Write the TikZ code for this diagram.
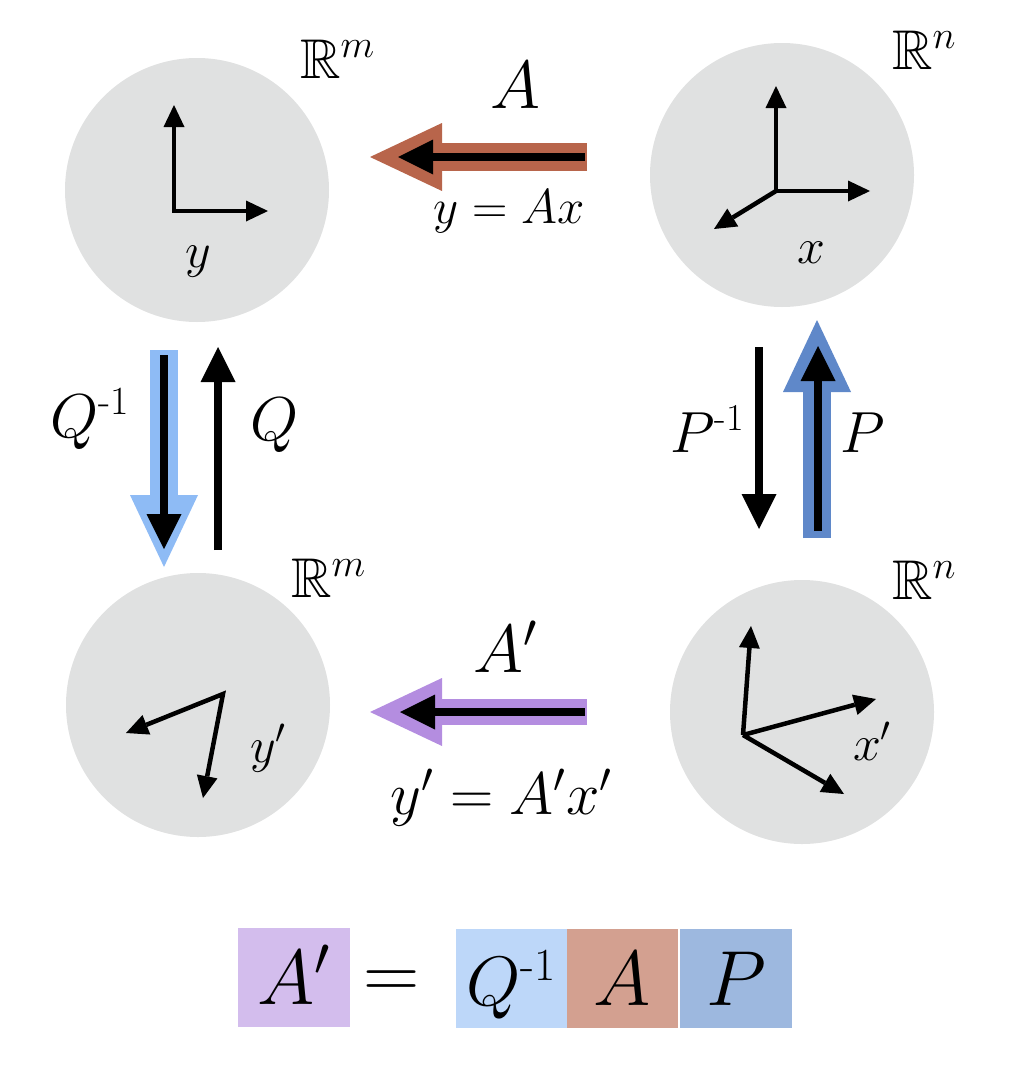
\documentclass[tikz,border=0pt]{standalone}
\usepackage{fix-cm}
\usepackage{amssymb}
\usetikzlibrary{arrows.meta}
\definecolor{circgray}{HTML}{E0E1E1}
\definecolor{colA}{HTML}{B8654B}
\definecolor{colAp}{HTML}{B48DE0}
\definecolor{colQ}{HTML}{8EBBF5}
\definecolor{colP}{HTML}{5F88C9}
\definecolor{boxAp}{HTML}{D3BDED}
\definecolor{boxQ}{HTML}{BDD7F9}
\definecolor{boxA}{HTML}{D3A090}
\definecolor{boxP}{HTML}{9DB8DF}
\newcommand\invsup[1]{^{\hbox{\fontsize{#1}{#1}\selectfont -1}}}
\begin{document}
\begin{tikzpicture}[x=1pt,y=-1pt,
  space/.style={circle, fill=circgray, minimum size=264pt, inner sep=0pt},
  axis/.style={line width=4.5pt, line join=miter, -{Triangle[length=22pt,width=21pt,line width=0pt]}},
  axis2/.style={line width=4.5pt, line join=miter, {Triangle[length=22pt,width=21pt,line width=0pt]}-{Triangle[length=22pt,width=21pt,line width=0pt]}},
  blk/.style={line width=8pt, -{Triangle[length=35pt,width=35pt,line width=0pt]}},
  fat/.style={line width=28pt, -{Triangle[length=72pt,width=68pt,line width=0pt]}},
  lab/.style={inner sep=0pt, anchor=base},
  mbox/.style={inner sep=0pt, minimum width=112pt, minimum height=99pt, text height=54pt, text depth=0pt, font=\fontsize{78}{90}\selectfont},
]
\useasboundingbox (0,0) rectangle (1021,1068);

% spaces
\node[space] (c1) at (197,190) {};
\node[space] (c2) at (782,175) {};
\node[space] (c3) at (198,705) {};
\node[space] (c4) at (802,712) {};

% axes TL
\coordinate (o1) at (174,211);
\coordinate (o1u) at (174,105);
\coordinate (o1r) at (268,211);
\draw[axis2] (o1u) -- (o1) -- (o1r);
% axes TR
\coordinate (o2) at (776,191);
\coordinate (o2u) at (776,86);
\coordinate (o2r) at (870,191);
\coordinate (o2d) at (714,229);
\draw[axis] (o2) -- (o2u);
\draw[axis] (o2) -- (o2r);
\draw[axis] (o2) -- (o2d);
% axes BL
\coordinate (o3) at (223,694);
\coordinate (o3a) at (126,733);
\coordinate (o3b) at (203,798);
\draw[axis2] (o3a) -- (o3) -- (o3b);
% axes BR
\coordinate (o4) at (743,735);
\coordinate (o4u) at (751,626);
\coordinate (o4r) at (876,699);
\coordinate (o4d) at (844,794);
\draw[axis] (o4) -- (o4u);
\draw[axis] (o4) -- (o4r);
\draw[axis] (o4) -- (o4d);

% space labels
\node[lab, anchor=base west] (r1) at (300,78) {\fontsize{56}{64}\selectfont $\mathbb{R}^m$};
\node[lab, anchor=base west] (r2) at (892,69) {\fontsize{56}{64}\selectfont $\mathbb{R}^n$};
\node[lab, anchor=base west] (r3) at (291,597) {\fontsize{56}{64}\selectfont $\mathbb{R}^m$};
\node[lab, anchor=base west] (r4) at (892,599) {\fontsize{56}{64}\selectfont $\mathbb{R}^n$};

% vector labels
\node[lab] (ly) at (198,267) {\fontsize{50}{60}\selectfont $y$};
\node[lab] (lx) at (811,263) {\fontsize{50}{60}\selectfont $x$};
\node[lab] (lyp) at (268,762) {\fontsize{50}{60}\selectfont $y'$};
\node[lab] (lxp) at (872,760) {\fontsize{50}{60}\selectfont $x'$};

% A arrow
\coordinate (aR) at (587,157);
\coordinate (aL) at (370,157);
\coordinate (aR2) at (585,157);
\coordinate (aL2) at (398,157);
\draw[fat, colA] (aR) -- (aL);
\draw[blk] (aR2) -- (aL2);
\node[lab] (lA) at (515,108) {\fontsize{68}{80}\selectfont $A$};
\node[lab] (lAx) at (509,223) {\fontsize{49}{56}\selectfont $y = Ax$};

% A' arrow
\coordinate (bR) at (587,712);
\coordinate (bL) at (370,712);
\coordinate (bR2) at (585,712);
\coordinate (bL2) at (400,712);
\draw[fat, colAp, line width=26pt] (bR) -- (bL);
\draw[blk] (bR2) -- (bL2);
\node[lab] (lAp) at (505,672) {\fontsize{68}{80}\selectfont $A'$};
\node[lab] (lApx) at (501,814) {\fontsize{60}{70}\selectfont $y' = A'x'$};

% Q^-1 and Q
\coordinate (qT) at (164,350);
\coordinate (qB) at (164,567);
\coordinate (qT2) at (164,355);
\coordinate (qB2) at (164,549);
\draw[fat, colQ] (qT) -- (qB);
\draw[blk] (qT2) -- (qB2);
\coordinate (q2B) at (218,550);
\coordinate (q2T) at (218,347);
\draw[blk] (q2B) -- (q2T);
\node[lab] (lQi) at (90,437) {\fontsize{62}{70}\selectfont $Q\invsup{40}$};
\node[lab] (lQ) at (275,440) {\fontsize{62}{70}\selectfont $Q$};

% P^-1 and P
\coordinate (p1T) at (759,347);
\coordinate (p1B) at (759,529);
\draw[blk] (p1T) -- (p1B);
\coordinate (pB) at (817,538);
\coordinate (pT) at (817,320);
\coordinate (pB2) at (818,531);
\coordinate (pT2) at (818,346);
\draw[fat, colP] (pB) -- (pT);
\draw[blk] (pB2) -- (pT2);
\node[lab] (lPi) at (707,452) {\fontsize{58}{70}\selectfont $P\invsup{38}$};
\node[lab] (lP) at (863,452) {\fontsize{58}{70}\selectfont $P$};

% bottom equation
\node[mbox, fill=boxAp] (eAp) at (294,977) {$A'$};
\node[lab] (eq) at (392,998) {\fontsize{78}{90}\selectfont $=$};
\node[mbox, fill=boxQ, minimum width=111pt, font=\fontsize{70}{80}\selectfont] (eQ) at (511.5,978.5) {$Q\invsup{46}$};
\node[mbox, fill=boxA, minimum width=111pt] (eA) at (622.5,978.5) {$A$};
\node[mbox, fill=boxP, minimum width=112pt] (eP) at (736,978.5) {$P$};
\end{tikzpicture}
\end{document}
